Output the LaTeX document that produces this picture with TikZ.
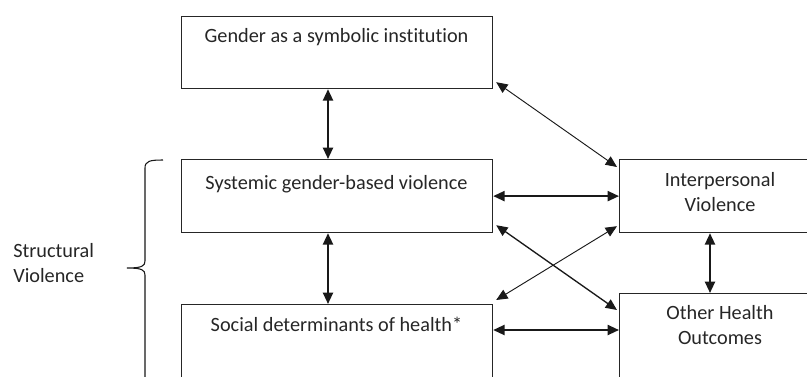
\documentclass[tikz,border=0pt]{standalone}
\usepackage{fontspec}
\setmainfont{Carlito}[Ligatures=NoCommon]
\usetikzlibrary{arrows.meta,calc}
\begin{document}
\begin{tikzpicture}[x=0.75pt,y=-0.75pt,
  box/.style={draw=black!85,line width=0.9pt,inner sep=0pt,anchor=north west},
  wbox/.style={box,minimum width=233.25pt},
  nbox/.style={box,minimum width=151.5pt},
  txt/.style={font=\fontsize{15.2}{18.75}\selectfont,text=black!85,align=center,inner sep=0pt},
  bi/.style={{Triangle[length=8.5pt,width=7.5pt]}-{Triangle[length=8.5pt,width=7.5pt]},line width=1.5pt,draw=black!90},
  mid/.style={{Triangle[length=8.5pt,width=7.5pt]}-{Triangle[length=8.5pt,width=7.5pt]},line width=1pt,draw=black!90},
  thin/.style={{Triangle[length=8.5pt,width=7.5pt]}-{Triangle[length=8.5pt,width=7.5pt]},line width=0.7pt,draw=black!90},
  bracestyle/.style={line width=0.8pt,draw=black!90}]
\useasboundingbox (0,0) rectangle (807,376);

% boxes
\node[wbox,minimum height=54pt] (b1) at (181,16) {};
\node[wbox,minimum height=54.75pt] (b2) at (181,159) {};
\node[wbox,minimum height=75pt] (b3) at (181,304) {};
\node[nbox,minimum height=54.75pt] (ip) at (619,159) {};
\node[nbox,minimum height=75pt] (oh) at (619,293) {};

% texts (base = baseline of the last line)
\node[txt,anchor=base] (t1) at (336.5,42) {Gender as a symbolic institution};
\node[txt,anchor=base] (t2) at (336.5,189) {Systemic gender-based violence};
\node[txt,anchor=base] (t3) at (336.5,331) {Social determinants of health*};
\node[txt,anchor=base] (t4) at (720,211) {Interpersonal\\Violence};
\node[txt,anchor=base] (t5) at (720,344) {Other Health\\Outcomes};
\node[txt,align=left,anchor=base west] (sv) at (13,282) {Structural\\Violence};

% helper coordinates
\coordinate (v1) at (328,0);
\coordinate (v2) at (710,0);
\coordinate (h1) at (0,330);

% connectors
\draw[bi] (b1.south -| v1) -- (b2.north -| v1);
\draw[bi] (b2.south -| v1) -- (b3.north -| v1);
\draw[bi] (b2.east) -- (ip.west);
\draw[bi] (b3.east |- h1) -- (oh.west |- h1);
\draw[bi] (ip.south -| v2) -- (oh.north -| v2);
\draw[thin] ($(b1.south east)+(3,-7)$) -- ($(ip.north west)+(-2,8)$);
\draw[mid] ($(b2.south east)+(3,-8)$) -- ($(oh.north west)+(-2,17)$);
\draw[thin] ($(b3.north east)+(3,-4)$) -- ($(ip.south west)+(-2,-7)$);

% brace
\draw[bracestyle] (163,160) .. controls (150,160) and (145,161) .. (145,168)
  -- (145,261) .. controls (145,266) and (142,268) .. (127,268)
  .. controls (142,268) and (145,270) .. (145,275) -- (145,385);
\end{tikzpicture}
\end{document}
